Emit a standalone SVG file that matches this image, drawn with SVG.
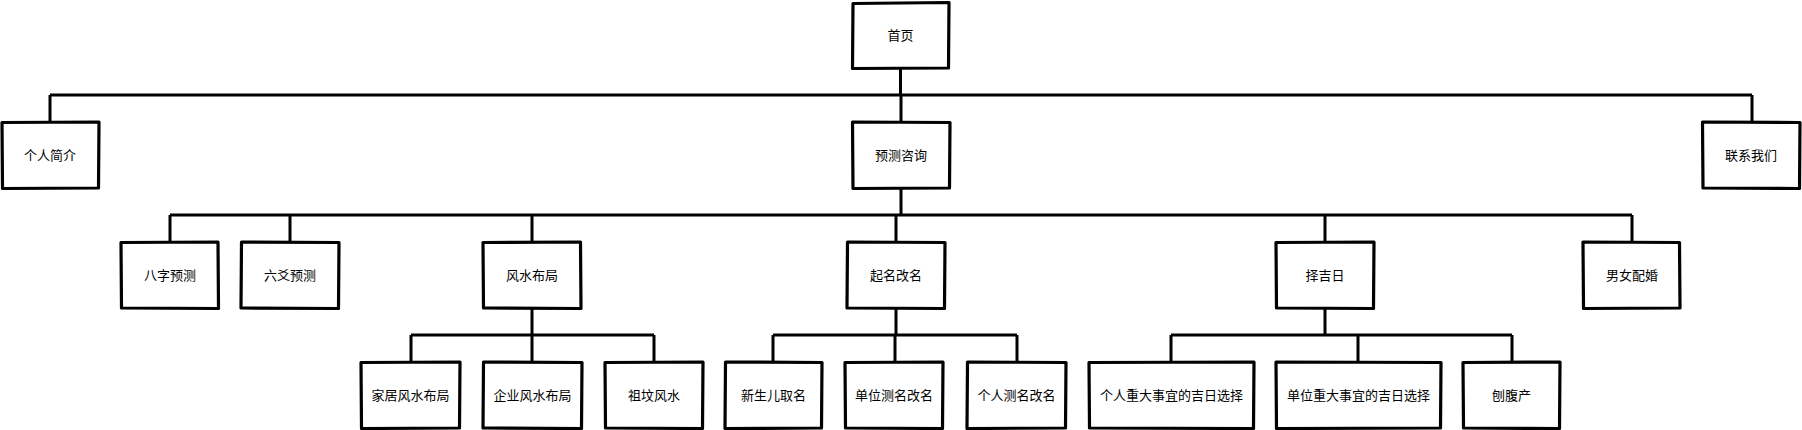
<svg xmlns="http://www.w3.org/2000/svg" width="1802" height="430" viewBox="0 0 1802 430">
<style>
.box{fill:#fff;stroke:#000;stroke-width:3.2;stroke-linejoin:round}
.c{fill:none;stroke:#000;stroke-width:3}
text{font-family:"Noto Sans CJK SC","Noto Sans",sans-serif;font-size:13px;fill:#000;text-anchor:middle}
</style>
<rect width="1802" height="430" fill="#fff"/>
<g id="connectors">
<path class="c" d="M900.5 68V95M50 95H1752M50 95V122M901 95V122M1752 95V122"/>
<path class="c" d="M901 188V215M170 215H1632M170 215V242M290 215V242M532 215V242M896 215V242M1325 215V242M1632 215V242"/>
<path class="c" d="M532 308V335M411 335H654M411 335V362M532 335V362M654 335V362"/>
<path class="c" d="M896 308V335M773 335H1017M773 335V362M895 335V362M1017 335V362"/>
<path class="c" d="M1325 308V335M1171 335H1512M1171 335V362M1358 335V362M1512 335V362"/>
</g>
<g id="n-home"><path class="box" d="M853 3.5L949 2.5L948.5 68L852.5 68.5Z"/><text x="900.5" y="39.5">首页</text></g>
<g id="n-intro"><path class="box" d="M2 122.5L99 122L98.5 188L2.5 188.5Z"/><text x="50" y="159.5">个人简介</text></g>
<g id="n-predict"><path class="box" d="M852.5 122L950 122.5L949.5 188L853 188.5Z"/><text x="901" y="159.5">预测咨询</text></g>
<g id="n-contact"><path class="box" d="M1702.5 122L1800 122.5L1799.5 188.5L1703 188Z"/><text x="1751" y="159.5">联系我们</text></g>
<g id="n-bazi"><path class="box" d="M121 242.5L218 242L218.5 308.5L121.5 308Z"/><text x="170" y="279.5">八字预测</text></g>
<g id="n-liuyao"><path class="box" d="M241.5 242L339 242.5L338.5 308.5L241 308Z"/><text x="290" y="279.5">六爻预测</text></g>
<g id="n-fengshui"><path class="box" d="M483 242.5L580.5 242L581 308.5L483.5 308Z"/><text x="532" y="279.5">风水布局</text></g>
<g id="n-naming"><path class="box" d="M847.5 242L945 242.5L944.5 308.5L847 308Z"/><text x="896" y="279.5">起名改名</text></g>
<g id="n-zejiri"><path class="box" d="M1276 242.5L1374 242L1373.5 308.5L1276.5 308Z"/><text x="1325" y="279.5">择吉日</text></g>
<g id="n-marriage"><path class="box" d="M1583 242L1679.5 242.5L1680 308L1583.5 308.5Z"/><text x="1632" y="279.5">男女配婚</text></g>
<g id="n-home-fs"><path class="box" d="M361 362.5L460 362L459.5 428L361.5 428.5Z"/><text x="410.5" y="399.5">家居风水布局</text></g>
<g id="n-corp-fs"><path class="box" d="M483.5 362L582 362.5L581.5 428.5L483 428Z"/><text x="532.5" y="399.5">企业风水布局</text></g>
<g id="n-grave-fs"><path class="box" d="M605 362.5L703 362L702.5 428.5L605.5 428Z"/><text x="654" y="399.5">祖坟风水</text></g>
<g id="n-newborn"><path class="box" d="M725.5 362L822 362.5L821.5 428L725 428.5Z"/><text x="773.5" y="399.5">新生儿取名</text></g>
<g id="n-unit-name"><path class="box" d="M845 362.5L943 362L942.5 428.5L845.5 428Z"/><text x="894" y="399.5">单位测名改名</text></g>
<g id="n-person-name"><path class="box" d="M967.5 362L1066 362.5L1065.5 428L967 428.5Z"/><text x="1016.5" y="399.5">个人测名改名</text></g>
<g id="n-person-day"><path class="box" d="M1089 362.5L1254 362L1253.5 428.5L1089.5 428Z"/><text x="1171.5" y="399.5">个人重大事宜的吉日选择</text></g>
<g id="n-unit-day"><path class="box" d="M1276 362L1441 362.5L1440.5 428L1276.5 428.5Z"/><text x="1358.5" y="399.5">单位重大事宜的吉日选择</text></g>
<g id="n-csection"><path class="box" d="M1463 362.5L1560 362L1559.5 428.5L1463.5 428Z"/><text x="1511.5" y="399.5">刨腹产</text></g>
</svg>
